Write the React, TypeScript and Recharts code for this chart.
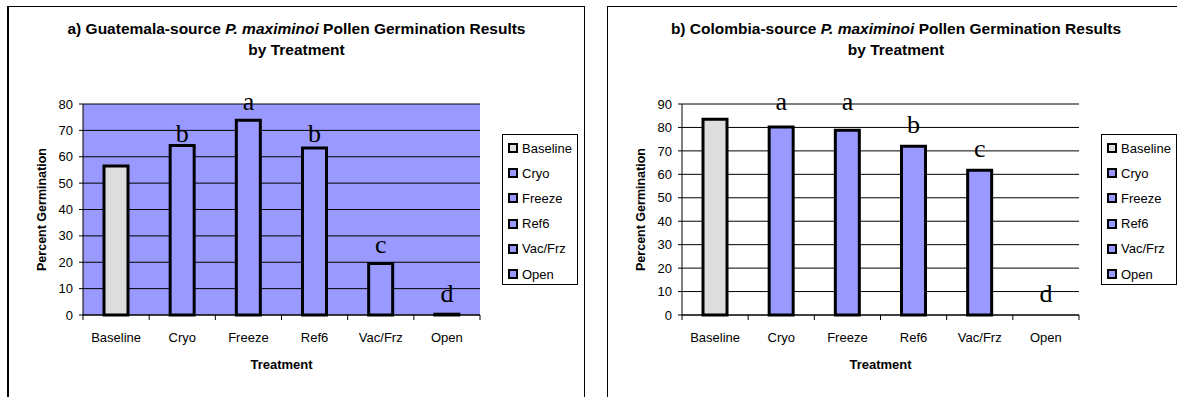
import type { FC } from "react";
import { ComposedChart, Bar, Cell, Scatter, XAxis, YAxis, CartesianGrid, Label } from "recharts";

const categories = ["Baseline", "Cryo", "Freeze", "Ref6", "Vac/Frz", "Open"];
const categoryColors = ["#DDDDDD", "#9999FF", "#9999FF", "#9999FF", "#9999FF", "#9999FF"];

const guatemalaGermination = [56.5, 64.3, 73.8, 63.3, 19.5, 0.3];
const guatemalaLetters = ["", "b", "a", "b", "c", "d"];
const guatemalaLetterHeights = [null, 65.6, 77.7, 65.6, 23.5, 4.9];
const guatemalaTicks = [0, 10, 20, 30, 40, 50, 60, 70, 80];

const colombiaGermination = [83.5, 80.2, 78.8, 72, 61.7, 0];
const colombiaLetters = ["", "a", "a", "b", "c", "d"];
const colombiaLetterHeights = [null, 87.5, 87.5, 77.6, 67.4, 5.5];
const colombiaTicks = [0, 10, 20, 30, 40, 50, 60, 70, 80, 90];

const SANS = "'Liberation Sans', Arial, sans-serif";
const TICK_SIZE = 5;
const TICK_MARGIN = 13;

const CategoryTick = (props: any) => {
  const { x, y, payload, index, visibleTicksCount } = props;
  const half = payload?.offset ?? 0;
  const axisY = y - TICK_SIZE - TICK_MARGIN;
  return (
    <g>
      <line x1={x - half} x2={x - half} y1={axisY} y2={axisY + TICK_SIZE} stroke="#000" />
      {index === visibleTicksCount - 1 && (
        <line x1={x + half} x2={x + half} y1={axisY} y2={axisY + TICK_SIZE} stroke="#000" />
      )}
      <text x={x} y={y} dy="0.71em" textAnchor="middle" fontSize={13} fontFamily={SANS} fill="#000">
        {payload.value}
      </text>
    </g>
  );
};

const LetterMark = (props: any) => {
  const { cx, cy, payload } = props;
  if (!payload?.letter || cy == null || isNaN(cy)) return <g />;
  return (
    <text x={cx} y={cy} textAnchor="middle" fontSize={26} fontFamily="'Liberation Serif', 'Times New Roman', serif" fill="#000">
      {payload.letter}
    </text>
  );
};

type PanelProps = {
  left: number;
  source: string;
  values: number[];
  letters: string[];
  letterHeights: (number | null)[];
  ticks: number[];
  plotFill: string;
};

const Panel: FC<PanelProps> = ({ left, source, values, letters, letterHeights, ticks, plotFill }) => {
  const rows = categories.map((name, i) => ({
    name,
    value: values[i],
    letter: letters[i],
    letterAt: letterHeights[i],
  }));
  const yMax = ticks[ticks.length - 1];

  return (
    <div
      style={{
        position: "absolute",
        left,
        top: 6,
        width: 578,
        height: 420,
        border: "1px solid #000",
        borderLeftWidth: left < 100 ? 2 : 1,
        boxSizing: "border-box",
        background: "#fff",
        fontFamily: SANS,
      }}
    >
      <div
        style={{
          position: "absolute",
          left: 0,
          right: 0,
          top: 11,
          textAlign: "center",
          fontWeight: "bold",
          fontSize: 15.5,
          lineHeight: "21px",
          color: "#000",
        }}
      >
        {source} <i>P. maximinoi</i> Pollen Germination Results
        <br />
        by Treatment
      </div>

      <div style={{ position: "absolute", left: 0, top: 0 }}>
        <ComposedChart width={576} height={392} data={rows} margin={{ top: 97, right: 105, bottom: 22, left: 14 }}>
          <CartesianGrid vertical={false} stroke="#000" fill={plotFill} fillOpacity={1} />
          <XAxis
            dataKey="name"
            height={62}
            tickLine={false}
            tickSize={TICK_SIZE}
            tickMargin={TICK_MARGIN}
            tick={<CategoryTick />}
            axisLine={{ stroke: "#000", strokeWidth: 1 }}
            interval={0}
          >
            <Label value="Treatment" position="insideBottom" offset={8} fill="#000" fontWeight="bold" fontSize={13} fontFamily={SANS} />
          </XAxis>
          <XAxis
            xAxisId="top"
            orientation="top"
            dataKey="name"
            height={0}
            tick={false}
            tickLine={false}
            axisLine={{ stroke: "#808080", strokeWidth: 2 }}
          />
          <YAxis
            width={60}
            domain={[0, yMax]}
            ticks={ticks}
            tickSize={4}
            tickMargin={6}
            tickLine={{ stroke: "#000" }}
            axisLine={{ stroke: "#000" }}
            tick={{ fill: "#000", fontSize: 13, fontFamily: SANS }}
            interval={0}
          >
            <Label
              content={(p: any) => {
                const vb = p.viewBox || { x: 0, y: 0, height: 0 };
                const tx = vb.x + 23;
                const ty = vb.y + vb.height / 2;
                return (
                  <text
                    x={tx}
                    y={ty}
                    transform={`rotate(-90, ${tx}, ${ty})`}
                    textAnchor="middle"
                    fontWeight="bold"
                    fontSize={12.5}
                    fontFamily={SANS}
                    fill="#000"
                  >
                    Percent Germination
                  </text>
                );
              }}
            />
          </YAxis>
          <YAxis
            yAxisId="right"
            orientation="right"
            width={0}
            domain={[0, yMax]}
            tick={false}
            tickLine={false}
            axisLine={{ stroke: "#808080", strokeWidth: 2 }}
          />
          <Bar dataKey="value" barSize={24} stroke="#000" strokeWidth={3} isAnimationActive={false}>
            {rows.map((r, i) => (
              <Cell key={r.name} fill={categoryColors[i]} />
            ))}
          </Bar>
          <Scatter dataKey="letterAt" shape={<LetterMark />} isAnimationActive={false} />
        </ComposedChart>
      </div>

      <div
        style={{
          position: "absolute",
          left: 493,
          top: 127,
          width: 76,
          height: 151,
          border: "1px solid #000",
          boxSizing: "border-box",
          background: "#fff",
        }}
      >
        {categories.map((name, i) => (
          <div
            key={name}
            style={{
              position: "absolute",
              left: 5,
              top: 13 + i * 25.2 - 8,
              height: 16,
              display: "flex",
              alignItems: "center",
              fontSize: 13,
              color: "#000",
              whiteSpace: "nowrap",
            }}
          >
            <span
              style={{
                display: "inline-block",
                width: 10,
                height: 10,
                border: "2.5px solid #000",
                boxSizing: "border-box",
                background: categoryColors[i],
                marginRight: 4,
              }}
            />
            {name}
          </div>
        ))}
      </div>
    </div>
  );
};

export default function App() {
  return (
    <div style={{ position: "absolute", left: 0, top: 0, width: 1177, height: 397, overflow: "hidden", background: "#fff" }}>
      <Panel
        left={7}
        source="a) Guatemala-source"
        values={guatemalaGermination}
        letters={guatemalaLetters}
        letterHeights={guatemalaLetterHeights}
        ticks={guatemalaTicks}
        plotFill="#9999FF"
      />
      <Panel
        left={607}
        source="b) Colombia-source"
        values={colombiaGermination}
        letters={colombiaLetters}
        letterHeights={colombiaLetterHeights}
        ticks={colombiaTicks}
        plotFill="#FFFFFF"
      />
    </div>
  );
}
